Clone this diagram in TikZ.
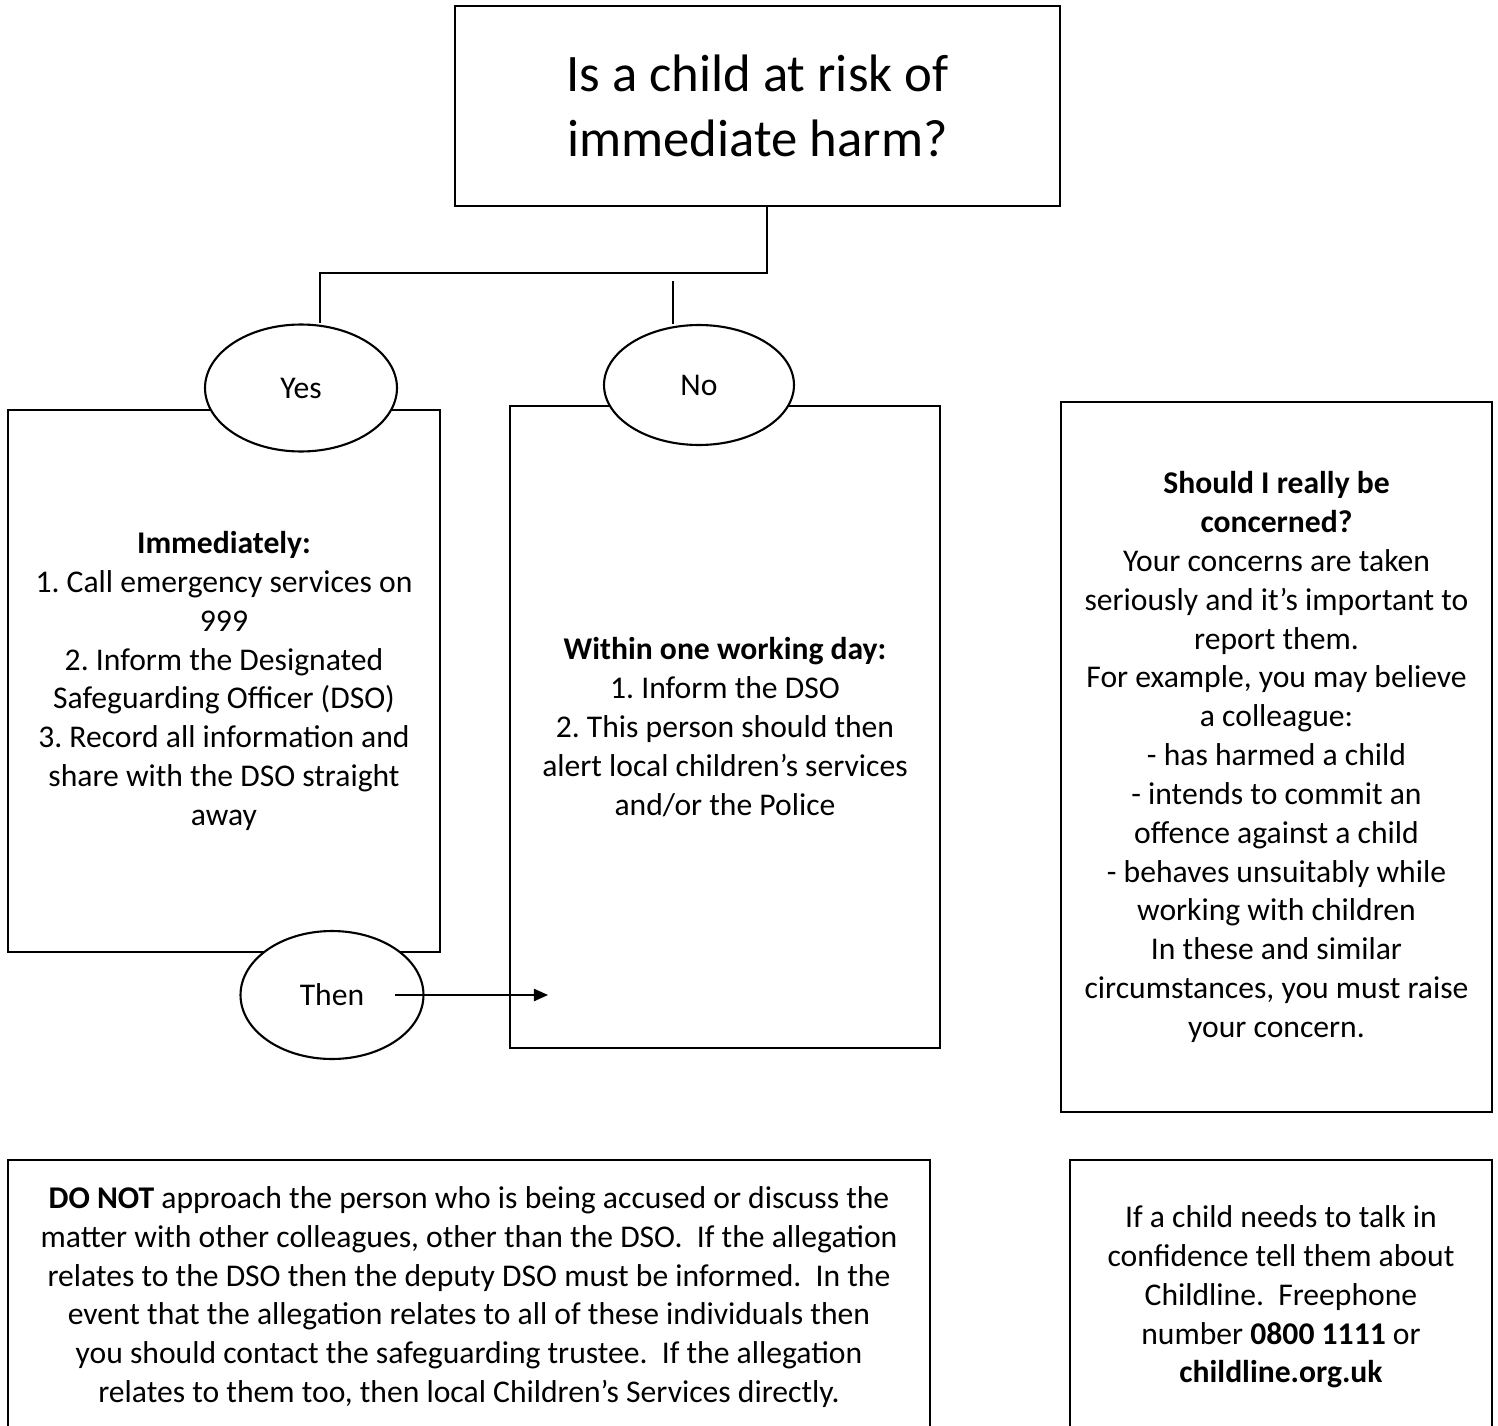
\documentclass[tikz,border=0pt]{standalone}
\usepackage{fontspec}
\setmainfont{Carlito}
\usetikzlibrary{shapes.geometric, arrows.meta}
\frenchspacing

\begin{document}
\begin{tikzpicture}[x=0.02cm, y=-0.02cm,
    every node/.style={draw, line width=1.2pt, align=center, inner sep=0pt,
        font=\fontsize{18}{22.1}\selectfont},
    box/.style={rectangle},
    bubble/.style={ellipse, fill=white}]
    \useasboundingbox (0, 0) rectangle (1498, 1426);

    \node[box, minimum width=12.1cm, minimum height=4cm, font=\fontsize{30}{36.9}\selectfont]
        (question) at (757.5, 106) {Is a child at risk of\\immediate harm?};

    \node[box, minimum width=8.64cm, minimum height=10.84cm] (yesbox) at (224, 681)
        {\textbf{Immediately:}\\1. Call emergency services on\\999\\2. Inform the Designated\\
         Safeguarding Officer (DSO)\\3. Record all information and\\share with the DSO straight\\away};
    \node[box, minimum width=8.6cm, minimum height=12.84cm] (nobox) at (725, 727)
        {\textbf{Within one working day:}\\1. Inform the DSO\\2. This person should then\\
         alert local children’s services\\and/or the Police};
    \node[box, minimum width=8.62cm, minimum height=14.2cm] (concern) at (1276.5, 757)
        {\textbf{Should I really be}\\\textbf{concerned?}\\Your concerns are taken\\
         seriously and it’s important to\\report them.\\For example, you may believe\\
         a colleague:\\- has harmed a child\\- intends to commit an\\offence against a child\\
         - behaves unsuitably while\\working with children\\In these and similar\\
         circumstances, you must raise\\your concern.};
    \node[box, minimum width=18.44cm, minimum height=5.48cm] (donot) at (469, 1297)
        {\textbf{DO NOT} approach the person who is being accused or discuss the\\
         matter with other colleagues, other than the DSO.\ \ If the allegation\\
         relates to the DSO then the deputy DSO must be informed.\ \ In the\\
         event that the allegation relates to all of these individuals then\\
         you should contact the safeguarding trustee.\ \ If the allegation\\
         relates to them too, then local Children’s Services directly.};
    \node[box, minimum width=8.44cm, minimum height=5.48cm] (childline) at (1281, 1297)
        {If a child needs to talk in\\confidence tell them about\\Childline.\ \ Freephone\\
         number \textbf{0800 1111} or\\\textbf{childline.org.uk}};

    \node[bubble, minimum width=3.84cm, minimum height=2.54cm] (yes) at (301, 388) {Yes};
    \node[bubble, minimum width=3.8cm, minimum height=2.4cm] (no) at (699, 385) {No};
    \node[bubble, minimum width=3.66cm, minimum height=2.56cm] (then) at (332, 995) {Then};

    \coordinate (split) at (767, 273);
    \coordinate (yesdrop) at (320, 273);
    \coordinate (nodrop) at (673, 281);
    \coordinate (thenend) at (548, 995);

    \draw[line width=0.8pt] (question.south -| split) -- (split) -- (yesdrop) -- (yesdrop |- yes.north);
    \draw[line width=0.8pt] (nodrop) -- (nodrop |- no.north);
    \draw[line width=0.8pt, -{Triangle[length=8pt, width=7pt]}, shorten <=1.26cm] (then.center) -- (thenend);
\end{tikzpicture}
\end{document}
